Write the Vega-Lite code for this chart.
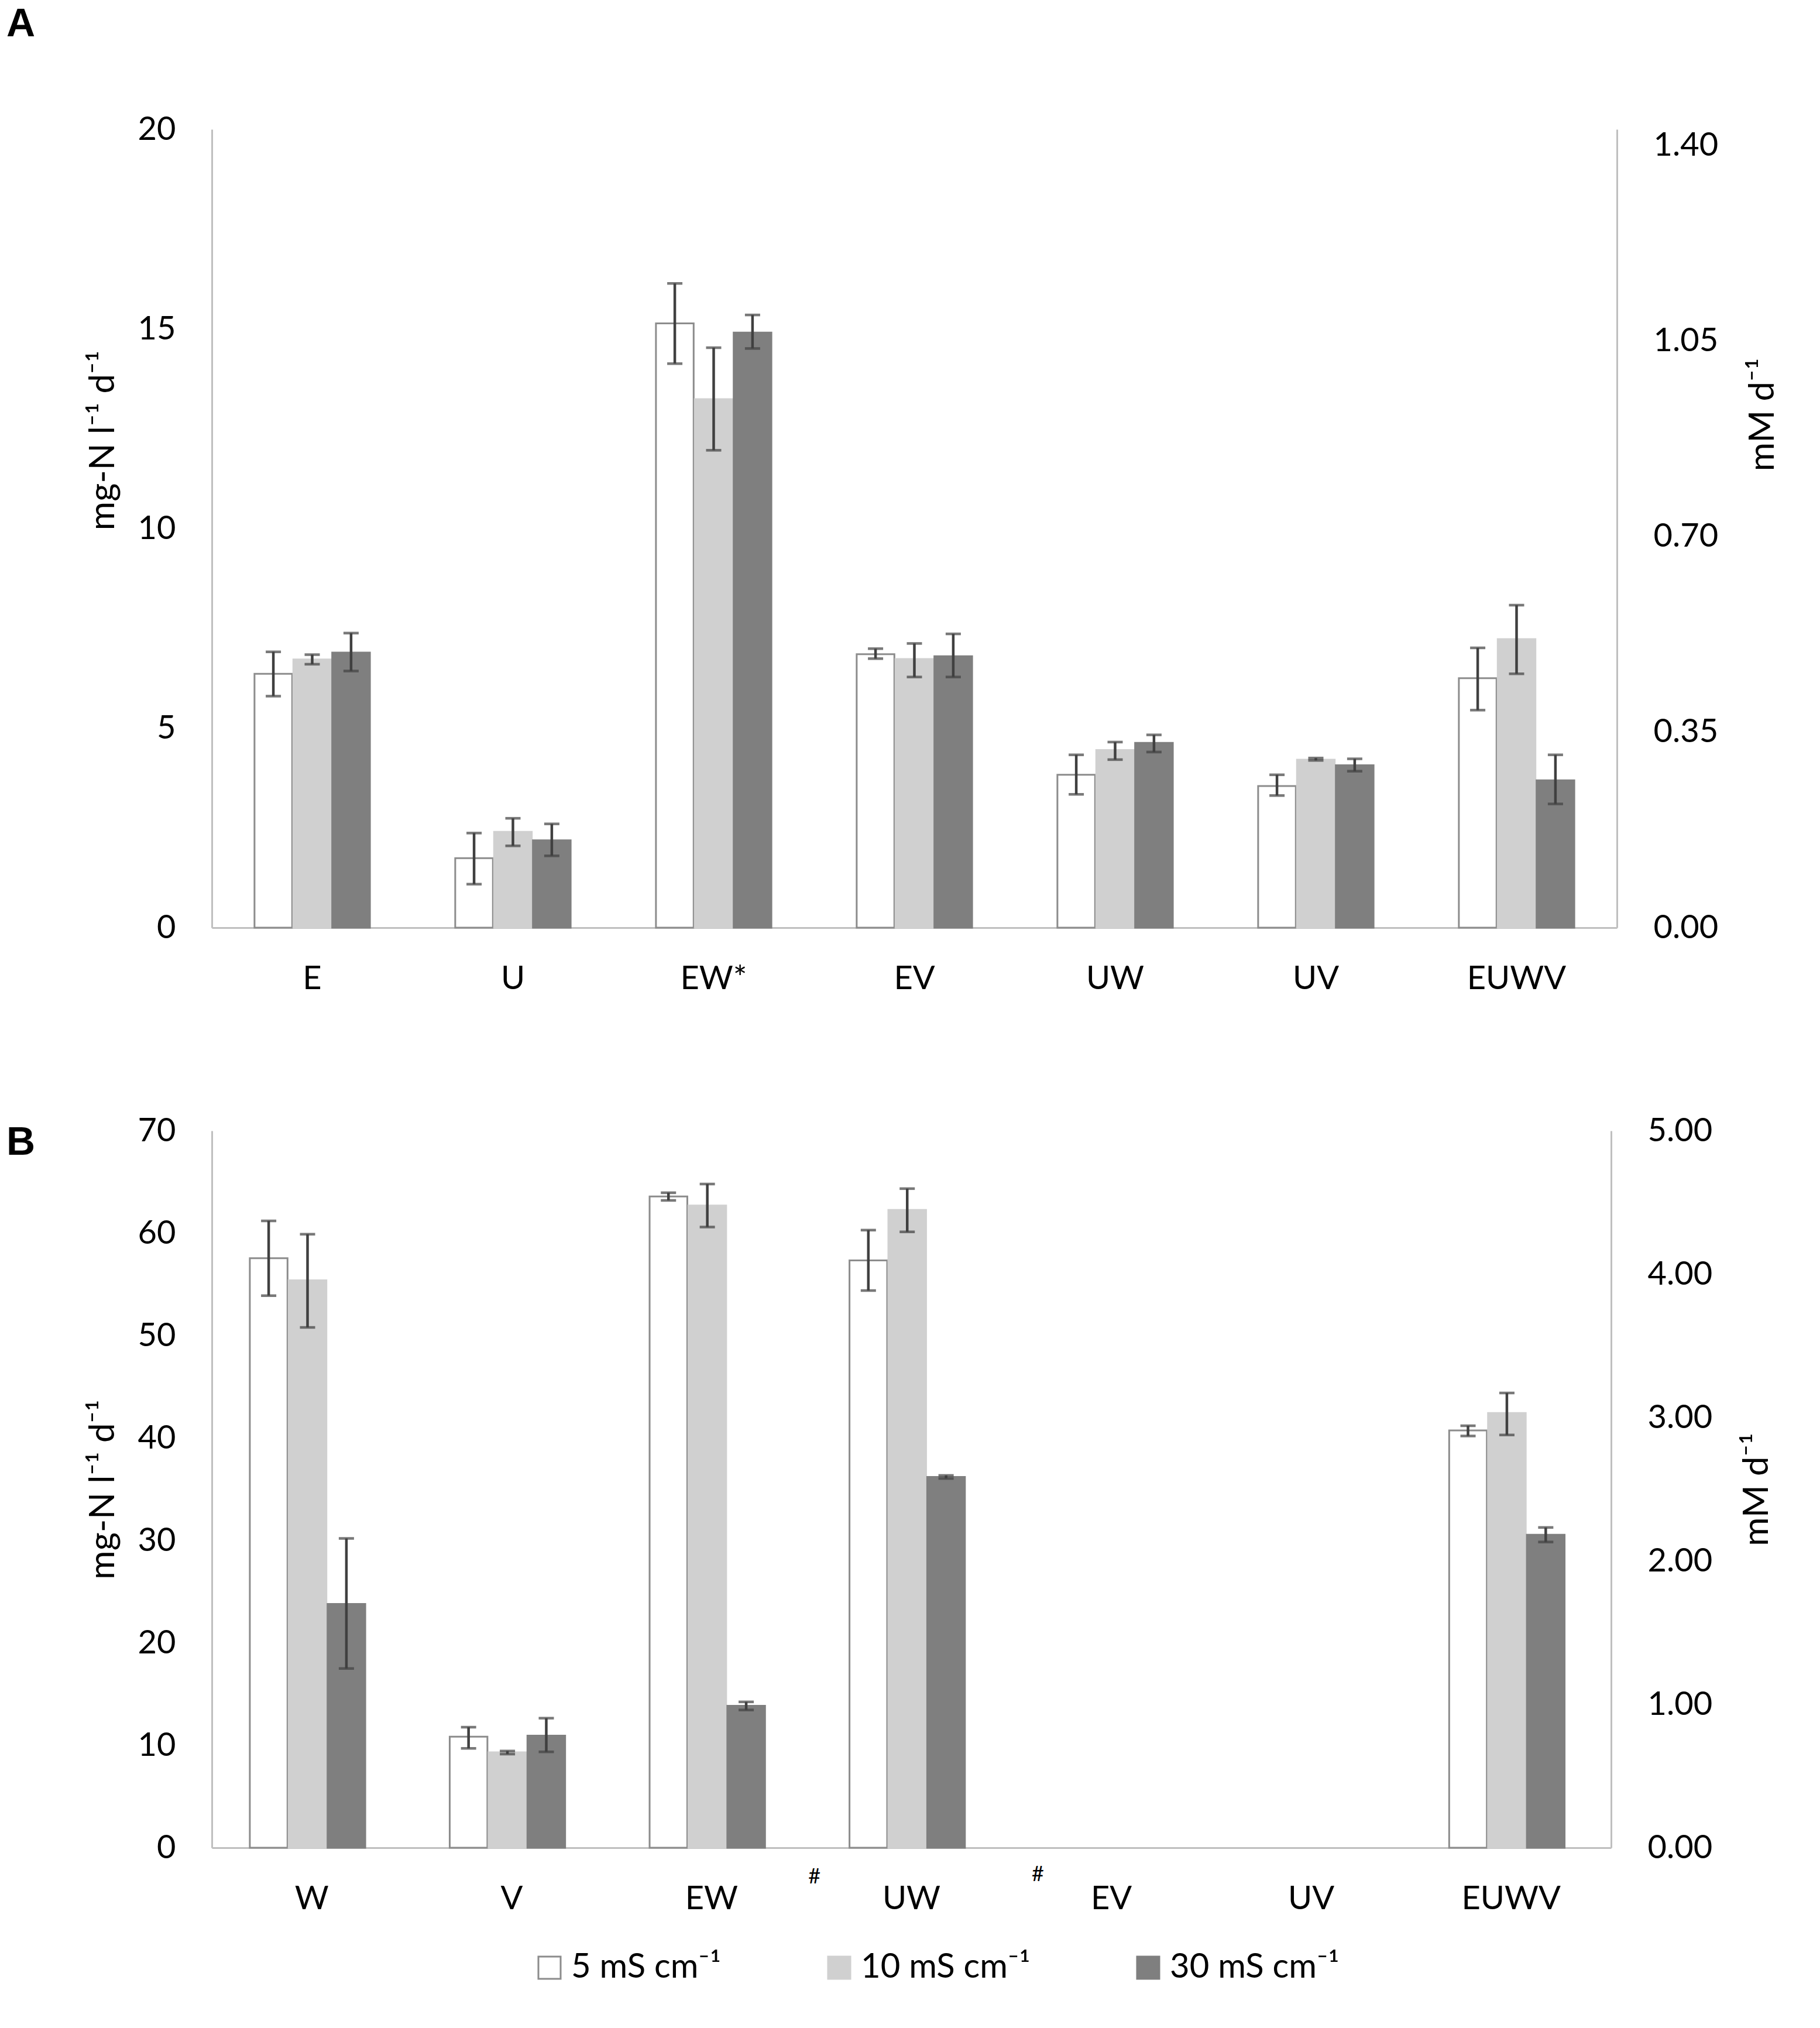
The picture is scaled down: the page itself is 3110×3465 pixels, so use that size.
{
  "$schema": "https://vega.github.io/schema/vega-lite/v6.json",
  "background": "white",
  "padding": {"left": 11, "top": 8, "right": 0, "bottom": 0},
  "config": {
    "font": "Lato",
    "view": {"stroke": null},
    "axis": {
      "grid": false, "ticks": false, "tickSize": 0,
      "domainColor": "#bfbfbf", "domainWidth": 3,
      "labelFont": "Lato", "labelFontSize": 56, "labelColor": "#000000",
      "titleFont": "Lato", "titleFontSize": 60, "titleFontWeight": "normal", "titleColor": "#000000"
    },
    "legend": {
      "orient": "none", "legendX": 548, "legendY": 3112, "direction": "horizontal", "columns": 3,
      "symbolType": "square", "symbolSize": 1444, "symbolStrokeWidth": 3,
      "labelFont": "Lato", "labelFontSize": 58, "labelColor": "#000000", "labelLimit": 0,
      "columnPadding": 172, "labelOffset": 8
    },
    "title": {"font": "Liberation Sans", "fontSize": 68, "fontWeight": "bold", "color": "#000000"}
  },
  "datasets": {
    "a": [
      {"g": "E", "c": "5 mS cm⁻¹", "v": 6.36, "lo": 5.80, "hi": 6.91},
      {"g": "E", "c": "10 mS cm⁻¹", "v": 6.72, "lo": 6.60, "hi": 6.84},
      {"g": "E", "c": "30 mS cm⁻¹", "v": 6.89, "lo": 6.43, "hi": 7.38},
      {"g": "U", "c": "5 mS cm⁻¹", "v": 1.74, "lo": 1.09, "hi": 2.37},
      {"g": "U", "c": "10 mS cm⁻¹", "v": 2.40, "lo": 2.05, "hi": 2.74},
      {"g": "U", "c": "30 mS cm⁻¹", "v": 2.19, "lo": 1.80, "hi": 2.60},
      {"g": "EW*", "c": "5 mS cm⁻¹", "v": 15.14, "lo": 14.13, "hi": 16.14},
      {"g": "EW*", "c": "10 mS cm⁻¹", "v": 13.24, "lo": 11.96, "hi": 14.53},
      {"g": "EW*", "c": "30 mS cm⁻¹", "v": 14.91, "lo": 14.51, "hi": 15.35},
      {"g": "EV", "c": "5 mS cm⁻¹", "v": 6.85, "lo": 6.74, "hi": 6.99},
      {"g": "EV", "c": "10 mS cm⁻¹", "v": 6.73, "lo": 6.28, "hi": 7.12},
      {"g": "EV", "c": "30 mS cm⁻¹", "v": 6.80, "lo": 6.28, "hi": 7.36},
      {"g": "UW", "c": "5 mS cm⁻¹", "v": 3.83, "lo": 3.34, "hi": 4.33},
      {"g": "UW", "c": "10 mS cm⁻¹", "v": 4.45, "lo": 4.21, "hi": 4.65},
      {"g": "UW", "c": "30 mS cm⁻¹", "v": 4.63, "lo": 4.40, "hi": 4.83},
      {"g": "UV", "c": "5 mS cm⁻¹", "v": 3.55, "lo": 3.31, "hi": 3.83},
      {"g": "UV", "c": "10 mS cm⁻¹", "v": 4.21, "lo": 4.19, "hi": 4.25},
      {"g": "UV", "c": "30 mS cm⁻¹", "v": 4.07, "lo": 3.92, "hi": 4.23},
      {"g": "EUWV", "c": "5 mS cm⁻¹", "v": 6.25, "lo": 5.45, "hi": 7.01},
      {"g": "EUWV", "c": "10 mS cm⁻¹", "v": 7.23, "lo": 6.36, "hi": 8.08},
      {"g": "EUWV", "c": "30 mS cm⁻¹", "v": 3.69, "lo": 3.10, "hi": 4.33}
    ],
    "b": [
      {"g": "W", "c": "5 mS cm⁻¹", "v": 57.56, "lo": 53.9, "hi": 61.2},
      {"g": "W", "c": "10 mS cm⁻¹", "v": 55.4, "lo": 50.8, "hi": 59.9},
      {"g": "W", "c": "30 mS cm⁻¹", "v": 23.8, "lo": 17.5, "hi": 30.2},
      {"g": "V", "c": "5 mS cm⁻¹", "v": 10.84, "lo": 9.7, "hi": 11.77},
      {"g": "V", "c": "10 mS cm⁻¹", "v": 9.31, "lo": 9.15, "hi": 9.45},
      {"g": "V", "c": "30 mS cm⁻¹", "v": 10.95, "lo": 9.36, "hi": 12.65},
      {"g": "EW", "c": "5 mS cm⁻¹", "v": 63.58, "lo": 63.2, "hi": 63.95},
      {"g": "EW", "c": "10 mS cm⁻¹", "v": 62.7, "lo": 60.6, "hi": 64.8},
      {"g": "EW", "c": "30 mS cm⁻¹", "v": 13.86, "lo": 13.45, "hi": 14.24},
      {"g": "UW", "c": "5 mS cm⁻¹", "v": 57.34, "lo": 54.4, "hi": 60.3},
      {"g": "UW", "c": "10 mS cm⁻¹", "v": 62.27, "lo": 60.13, "hi": 64.35},
      {"g": "UW", "c": "30 mS cm⁻¹", "v": 36.2, "lo": 36.05, "hi": 36.35},
      {"g": "EUWV", "c": "5 mS cm⁻¹", "v": 40.74, "lo": 40.2, "hi": 41.2},
      {"g": "EUWV", "c": "10 mS cm⁻¹", "v": 42.44, "lo": 40.3, "hi": 44.4},
      {"g": "EUWV", "c": "30 mS cm⁻¹", "v": 30.56, "lo": 29.85, "hi": 31.27}
    ]
  },
  "spacing": 204,
  "vconcat": [
    {
      "width": 2401,
      "height": 1364,
      "data": {"name": "a"},
      "title": {"text": "A", "orient": "top", "anchor": "start", "frame": "group", "dx": -351, "offset": 63, "baseline": "alphabetic"},
      "layer": [
        {
          "layer": [
            {
              "mark": {"type": "bar", "strokeWidth": 3},
              "encoding": {
                "x": {"field": "g", "type": "nominal", "scale": {"domain": ["E", "U", "EW*", "EV", "UW", "UV", "EUWV"], "paddingInner": 0.425, "paddingOuter": 0.2125},
                      "axis": {"title": null, "labelAngle": 0, "labelPadding": 60}},
                "xOffset": {"field": "c", "type": "nominal", "scale": {"domain": ["5 mS cm⁻¹", "10 mS cm⁻¹", "30 mS cm⁻¹"], "paddingInner": 0.03, "paddingOuter": 0}},
                "y": {"field": "v", "type": "quantitative", "title": "mg-N l⁻¹ d⁻¹", "scale": {"domain": [0, 20], "nice": false},
                      "axis": {"orient": "left", "values": [0, 5, 10, 15, 20], "format": "d", "labelPadding": 62, "titlePadding": 28, "titleY": 531}},
                "fill": {"field": "c", "type": "nominal", "scale": {"domain": ["5 mS cm⁻¹", "10 mS cm⁻¹", "30 mS cm⁻¹"], "range": ["#ffffff", "#d0d0d0", "#7f7f7f"]}, "legend": {"title": null}},
                "stroke": {"field": "c", "type": "nominal", "scale": {"domain": ["5 mS cm⁻¹", "10 mS cm⁻¹", "30 mS cm⁻¹"], "range": ["#8c8c8c", "#d0d0d0", "#7f7f7f"]}, "legend": {"title": null}}
              }
            },
            {
              "mark": {"type": "rule", "color": "#404040", "strokeWidth": 4.5},
              "encoding": {
                "x": {"field": "g", "type": "nominal"},
                "xOffset": {"field": "c", "type": "nominal"},
                "y": {"field": "lo", "type": "quantitative", "title": "mg-N l⁻¹ d⁻¹"},
                "y2": {"field": "hi"}
              }
            },
            {
              "mark": {"type": "tick", "color": "#404040", "thickness": 4.5, "size": 26},
              "encoding": {
                "x": {"field": "g", "type": "nominal"},
                "xOffset": {"field": "c", "type": "nominal"},
                "y": {"field": "lo", "type": "quantitative", "title": "mg-N l⁻¹ d⁻¹"}
              }
            },
            {
              "mark": {"type": "tick", "color": "#404040", "thickness": 4.5, "size": 26},
              "encoding": {
                "x": {"field": "g", "type": "nominal"},
                "xOffset": {"field": "c", "type": "nominal"},
                "y": {"field": "hi", "type": "quantitative", "title": "mg-N l⁻¹ d⁻¹"}
              }
            }
          ]
        },
        {
          "mark": {"type": "rule", "opacity": 0},
          "encoding": {
            "y": {"datum": 0, "type": "quantitative", "scale": {"domain": [0, 1.4286], "nice": false},
                  "axis": {"orient": "right", "title": "mM d⁻¹", "values": [0, 0.35, 0.7, 1.05, 1.4], "format": ".2f", "labelPadding": 62, "titleAngle": 270, "titleBaseline": "top", "titlePadding": 48, "titleY": 487}}
          }
        }
      ],
      "resolve": {"scale": {"y": "independent"}}
    },
    {
      "width": 2391,
      "height": 1225,
      "data": {"name": "b"},
      "title": {"text": "B", "orient": "top", "anchor": "start", "frame": "group", "dx": -351, "offset": -137, "baseline": "alphabetic"},
      "layer": [
        {
          "layer": [
            {
              "mark": {"type": "bar", "strokeWidth": 3},
              "encoding": {
                "x": {"field": "g", "type": "nominal", "scale": {"domain": ["W", "V", "EW", "UW", "EV", "UV", "EUWV"], "paddingInner": 0.38, "paddingOuter": 0.19},
                      "axis": {"title": null, "labelAngle": 0, "labelPadding": 60}},
                "xOffset": {"field": "c", "type": "nominal", "scale": {"domain": ["5 mS cm⁻¹", "10 mS cm⁻¹", "30 mS cm⁻¹"], "paddingInner": 0.26, "paddingOuter": 0}},
                "y": {"field": "v", "type": "quantitative", "title": "mg-N l⁻¹ d⁻¹", "scale": {"domain": [0, 70], "nice": false},
                      "axis": {"orient": "left", "values": [0, 10, 20, 30, 40, 50, 60, 70], "format": "d", "labelPadding": 62, "titlePadding": 28}},
                "fill": {"field": "c", "type": "nominal", "scale": {"domain": ["5 mS cm⁻¹", "10 mS cm⁻¹", "30 mS cm⁻¹"], "range": ["#ffffff", "#d0d0d0", "#7f7f7f"]}, "legend": {"title": null}},
                "stroke": {"field": "c", "type": "nominal", "scale": {"domain": ["5 mS cm⁻¹", "10 mS cm⁻¹", "30 mS cm⁻¹"], "range": ["#8c8c8c", "#d0d0d0", "#7f7f7f"]}, "legend": {"title": null}}
              }
            },
            {
              "mark": {"type": "rule", "color": "#404040", "strokeWidth": 4.5},
              "encoding": {
                "x": {"field": "g", "type": "nominal"},
                "xOffset": {"field": "c", "type": "nominal"},
                "y": {"field": "lo", "type": "quantitative", "title": "mg-N l⁻¹ d⁻¹"},
                "y2": {"field": "hi"}
              }
            },
            {
              "mark": {"type": "tick", "color": "#404040", "thickness": 4.5, "size": 26},
              "encoding": {
                "x": {"field": "g", "type": "nominal"},
                "xOffset": {"field": "c", "type": "nominal"},
                "y": {"field": "lo", "type": "quantitative", "title": "mg-N l⁻¹ d⁻¹"}
              }
            },
            {
              "mark": {"type": "tick", "color": "#404040", "thickness": 4.5, "size": 26},
              "encoding": {
                "x": {"field": "g", "type": "nominal"},
                "xOffset": {"field": "c", "type": "nominal"},
                "y": {"field": "hi", "type": "quantitative", "title": "mg-N l⁻¹ d⁻¹"}
              }
            },
            {
              "data": {"values": [{"g": "EW", "s": "#"}]},
              "mark": {"type": "text", "fontSize": 36, "font": "Lato", "color": "#000000", "dy": 50, "baseline": "middle"},
              "encoding": {
                "x": {"field": "g", "type": "nominal", "bandPosition": 1.33},
                "y": {"datum": 0, "type": "quantitative"},
                "text": {"field": "s"}
              }
            },
            {
              "data": {"values": [{"g": "UW", "s": "#"}]},
              "mark": {"type": "text", "fontSize": 36, "font": "Lato", "color": "#000000", "dy": 46, "baseline": "middle"},
              "encoding": {
                "x": {"field": "g", "type": "nominal", "bandPosition": 1.52},
                "y": {"datum": 0, "type": "quantitative"},
                "text": {"field": "s"}
              }
            }
          ]
        },
        {
          "mark": {"type": "rule", "opacity": 0},
          "encoding": {
            "y": {"datum": 0, "type": "quantitative", "scale": {"domain": [0, 5], "nice": false},
                  "axis": {"orient": "right", "title": "mM d⁻¹", "values": [0, 1, 2, 3, 4, 5], "format": ".2f", "labelPadding": 62, "titleAngle": 270, "titleBaseline": "top", "titlePadding": 48}}
          }
        }
      ],
      "resolve": {"scale": {"y": "independent"}}
    }
  ]
}
